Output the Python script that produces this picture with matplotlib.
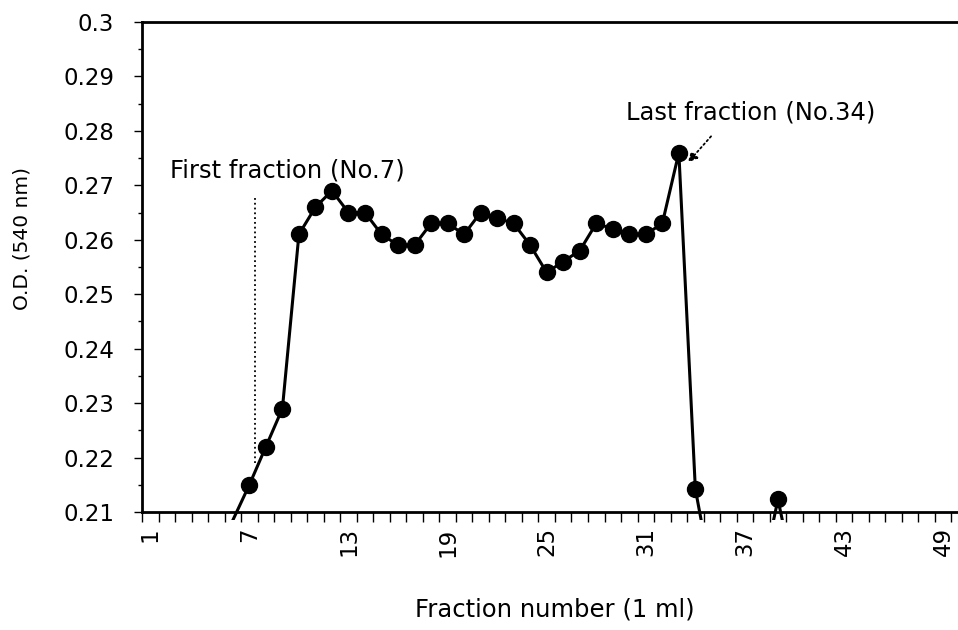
import numpy as np
import matplotlib
matplotlib.use("Agg")
from matplotlib import pyplot as plt
from matplotlib.ticker import FixedLocator, MultipleLocator
from matplotlib.transforms import Bbox, TransformedBbox

# fraction number and O.D. at 540 nm (nan = below the plotted range, not readable)
fraction = np.arange(6, 41)
od = np.array([0.2085, 0.215, 0.222, 0.229, 0.261, 0.266, 0.269, 0.265, 0.265,
               0.261, 0.259, 0.259, 0.263, 0.263, 0.261, 0.265, 0.264, 0.263,
               0.259, 0.254, 0.256, 0.258, 0.263, 0.262, 0.261, 0.261, 0.263,
               0.276, 0.2142, 0.198, np.nan, np.nan, 0.198, 0.2123, 0.198])
xtick_labels = [1, 7, 13, 19, 25, 31, 37, 43, 49]
first_x, first_ymin, first_ymax = 7.34, 0.219, 0.2677

plt.rcParams['font.family'] = ['DejaVu Sans']

fig = plt.figure(figsize=(9.58, 6.3), dpi=100)
ax = fig.add_axes([142/958, 1-512/630, 1-142/958, 490/630])

line, = ax.plot(fraction, od, color='black', lw=2.2)
# let the line run a little past the bottom axis like the original
line.set_clip_box(TransformedBbox(Bbox([[0, -0.017], [1, 1]]), ax.transAxes))
vis = od >= 0.21
ax.plot(fraction[vis], od[vis], 'o', color='black', ms=11.5)

ax.vlines(first_x, first_ymin, first_ymax, colors='black', linestyles=':', lw=1.3)
ax.text(2.2, 0.2728, 'First fraction (No.7)', fontsize=17.5, va='center', ha='left')
ax.text(29.8, 0.2833, 'Last fraction (No.34)', fontsize=17.5, va='center', ha='left')
ax.annotate('', xy=(33.55, 0.2742), xytext=(34.95, 0.279),
            arrowprops=dict(arrowstyle='-|>', ls=':', lw=1.3, color='black',
                            mutation_scale=14, shrinkA=0, shrinkB=0))

ax.set_xlim(0.5, 49.9)
ax.set_ylim(0.21, 0.30)
ax.xaxis.set_major_locator(FixedLocator(xtick_labels))
ax.xaxis.set_minor_locator(FixedLocator(np.arange(0.5, 50, 1)))
ax.yaxis.set_major_locator(MultipleLocator(0.01))
ax.yaxis.set_minor_locator(MultipleLocator(0.005))
ax.yaxis.set_major_formatter(plt.FuncFormatter(lambda v, p: ('%.2f' % v).rstrip('0')))

ax.tick_params(axis='x', which='major', length=0, labelsize=16.5, labelrotation=90, pad=11)
ax.tick_params(axis='x', which='minor', length=7, width=1)
ax.tick_params(axis='y', which='major', length=6, width=1, labelsize=16.5, pad=14)
ax.tick_params(axis='y', which='minor', length=3, width=1)

for s in ['left', 'bottom', 'top']:
    ax.spines[s].set_linewidth(2)
ax.spines['right'].set_visible(False)

fig.text(555/958, 1-610/630, 'Fraction number (1 ml)', fontsize=17.5, ha='center', va='center')
fig.text(22/958, 1-238/630, 'O.D. (540 nm)', fontsize=14.5, rotation=90, ha='center', va='center')

fig.savefig('out.png', dpi=100)
